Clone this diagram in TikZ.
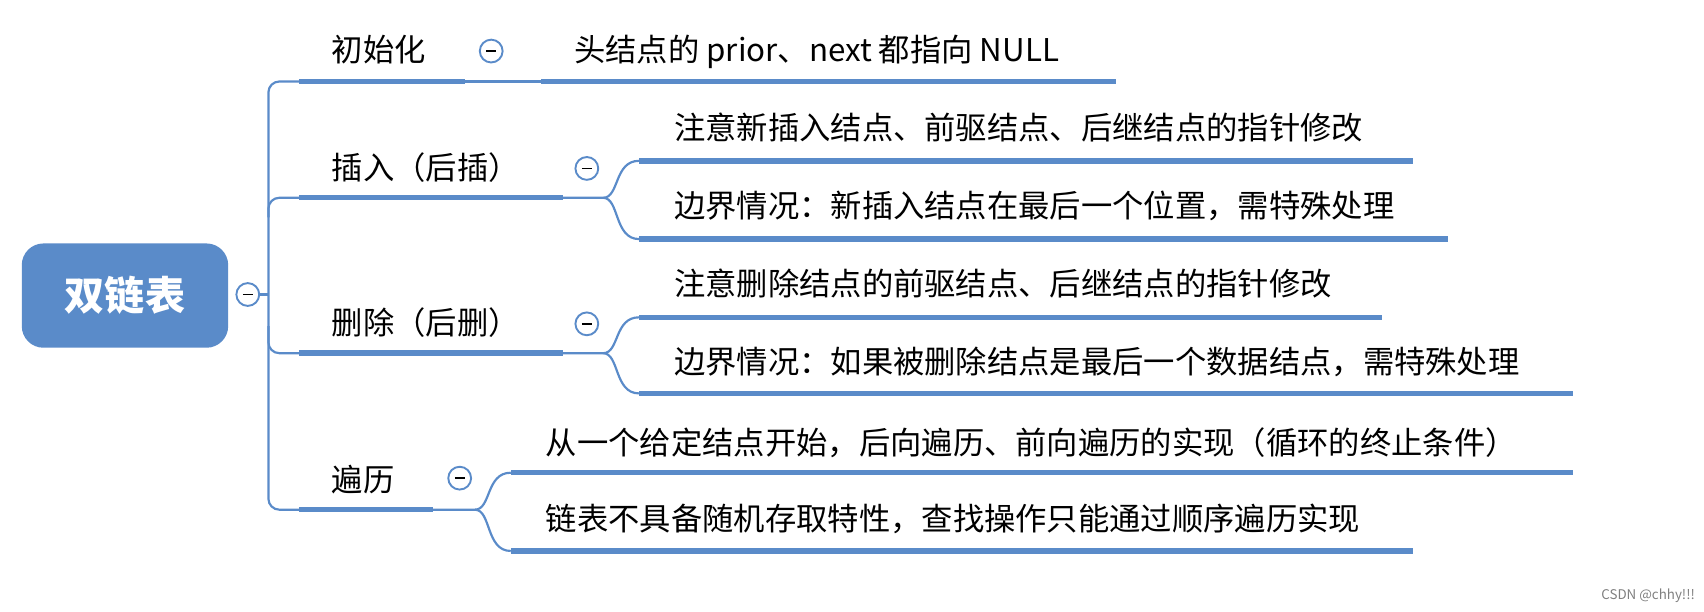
\documentclass[tikz,border=0pt]{standalone}
\usepackage{fontspec}
\setmainfont{Noto Sans CJK SC}
\definecolor{mb}{HTML}{5A8BC9}
\begin{document}
\begin{tikzpicture}[x=0.02cm,y=-0.02cm,
  ul/.style={draw=mb,line width=0.1cm},
  th/.style={draw=mb,line width=0.04cm},
  tx/.style={font=\fontsize{16.4pt}{18pt}\selectfont,inner sep=0pt,anchor=base west},
  col/.style={circle,draw=mb,line width=0.035cm,minimum size=0.42cm,inner sep=0pt,fill=white}]
\useasboundingbox (0,0) rectangle (1568,563);
\node[fill=mb,rounded corners=0.4cm,minimum width=3.8cm,minimum height=1.92cm,text=white,font=\fontsize{21pt}{24pt}\selectfont\bfseries] (root) at (115,272) {双链表};
\node[col] (rc) at (228,271) {\rule{0.18cm}{0.03cm}};
\draw[th] (rc.east) -- (247,271);
\draw[th,rounded corners=0.2cm] (275,75) -- (247,75) -- (247,469) -- (275,469);
\draw[th,rounded corners=0.2cm] (247,200) |- (275,182);
\draw[th,rounded corners=0.2cm] (247,300) |- (275,325);
% branch 1
\node[tx] (b1) at (305,57) {初始化};
\draw[ul] (275,75) -- (428,75);
\node[col] (c1) at (452,47) {\rule{0.18cm}{0.03cm}};
\draw[th] (428,75) -- (498,75);
\node[tx] (b1a) at (528,57) {头结点的 prior、next 都指向 NULL};
\draw[ul] (498,75) -- (1027,75);
% branch 2
\node[tx] (b2) at (305,165) {插入（后插）};
\draw[ul] (275,182) -- (518,182);
\node[col] (c2) at (540,155) {\rule{0.18cm}{0.03cm}};
\draw[th] (518,182) -- (555,182) .. controls (570,182) and (565,148) .. (588,148);
\draw[th] (555,182) .. controls (570,182) and (565,220) .. (588,220);
\node[tx] (b2a) at (620,128) {注意新插入结点、前驱结点、后继结点的指针修改};
\draw[ul] (588,148) -- (1300,148);
\node[tx] (b2b) at (620,200) {边界情况：新插入结点在最后一个位置，需特殊处理};
\draw[ul] (588,220) -- (1332,220);
% branch 3
\node[tx] (b3) at (305,308) {删除（后删）};
\draw[ul] (275,325) -- (518,325);
\node[col] (c3) at (540,298) {\rule{0.18cm}{0.03cm}};
\draw[th] (518,325) -- (555,325) .. controls (570,325) and (565,292) .. (588,292);
\draw[th] (555,325) .. controls (570,325) and (565,362) .. (588,362);
\node[tx] (b3a) at (620,272) {注意删除结点的前驱结点、后继结点的指针修改};
\draw[ul] (588,292) -- (1272,292);
\node[tx] (b3b) at (620,344) {边界情况：如果被删除结点是最后一个数据结点，需特殊处理};
\draw[ul] (588,362) -- (1447,362);
% branch 4
\node[tx] (b4) at (305,452) {遍历};
\draw[ul] (275,469) -- (398,469);
\node[col] (c4) at (423,440) {\rule{0.18cm}{0.03cm}};
\draw[th] (398,469) -- (437,469) .. controls (452,469) and (447,435) .. (470,435);
\draw[th] (437,469) .. controls (452,469) and (447,507) .. (470,507);
\node[tx] (b4a) at (502,418) {从一个给定结点开始，后向遍历、前向遍历的实现（循环的终止条件）};
\draw[ul] (470,435) -- (1447,435);
\node[tx] (b4b) at (502,488) {链表不具备随机存取特性，查找操作只能通过顺序遍历实现};
\draw[ul] (470,507) -- (1300,507);
\node[font=\fontsize{7pt}{8pt}\selectfont,text=gray,anchor=base east,inner sep=0pt] (wm) at (1560,552) {CSDN @chhy!!!};
\end{tikzpicture}
\end{document}
